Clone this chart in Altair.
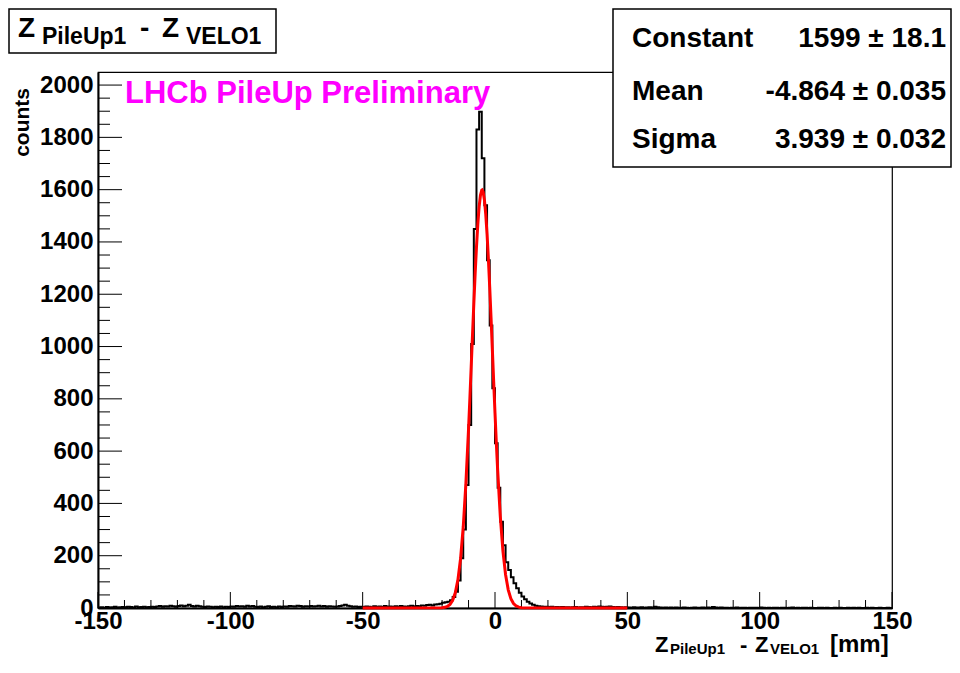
import altair as alt
import pandas as pd

FONT = "Liberation Sans"

# ---------------- data ----------------
# histogram counts, 1 mm bins, bin lower edges from -150 to 149
left_bg = [2, 3, 1, 4, 2, 3, 5, 2, 3, 4,
           3, 5, 4, 2, 6, 3, 4, 5, 3, 4,
           5, 4, 6, 8, 5, 7, 6, 9, 7, 5,
           8, 10, 7, 9, 12, 8, 6, 9, 7, 5,
           4, 6, 5, 3, 5, 4, 6, 3, 5, 4,
           6, 5, 8, 6, 7, 5, 9, 6, 8, 5,
           4, 6, 3, 5, 7, 4, 5, 3, 6, 4,
           6, 5, 8, 7, 6, 9, 8, 5, 7, 6,
           8, 6, 7, 9, 6, 8, 5, 7, 6, 5,
           6, 8, 10, 12, 9, 7, 5, 6, 4, 5,
           4, 6, 5, 3, 7, 5, 6, 4, 8, 5,
           6, 4, 7, 5, 8, 6, 5, 7, 9, 6,
           8, 7, 10, 9, 11, 12, 10, 13]            # -150 .. -23
core = [14, 16, 20, 22, 24, 30, 42, 62, 105, 190,
        300, 470, 700, 1010, 1450, 1830, 1898, 1720, 1540, 1330,
        1080, 840, 630, 460, 330, 240, 175, 145, 118, 95,
        76, 58, 44, 33, 24, 17, 12, 9, 7]           # -22 .. 16
right_bg = [6, 5, 5, 4, 5, 3, 4, 3, 4, 3,
            3, 2, 3, 4, 2, 3, 3, 5, 4, 3,
            5, 4, 6, 5, 4, 5, 6, 4, 3, 4,
            3, 2, 3, 2, 1, 3, 2, 2, 3, 1,
            2, 3, 2, 5, 3, 2, 1, 2, 1, 2,
            1, 2, 1, 1, 2, 1, 0, 1, 2, 1,
            1, 2, 1, 2, 1, 4, 2, 1, 2, 1,
            1, 0, 1, 1, 2, 0, 1, 1, 0, 1,
            1, 1, 0, 2, 1, 0, 1, 0, 1, 1,
            0, 1, 1, 0, 1, 2, 0, 1, 0, 1,
            1, 0, 1, 0, 0, 1, 1, 0, 1, 0,
            0, 1, 0, 1, 0, 0, 1, 0, 1, 0,
            1, 0, 0, 1, 0, 1, 0, 0, 1, 0,
            0, 1, 0]                                  # 17 .. 149
counts = left_bg + core + right_bg
bin_lo = list(range(-150, 150))

# Gaussian fit curve (Constant 1599, Mean -4.864, Sigma 3.939), drawn on [-50, 50]
fit_x = [-50, -20, -19, -18, -17, -16, -15, -14, -13, -12, -11, -10, -9.5, -9, -8.5,
         -8, -7.5, -7, -6.5, -6, -5.5, -5, -4.864, -4.5, -4, -3.5, -3, -2.5, -2, -1.5,
         -1, -0.5, 0, 0.5, 1, 2, 3, 4, 5, 6, 7, 8, 9, 10, 50]
fit_y = [0, 1.0, 2.5, 6.1, 13.9, 29.4, 58.3, 108.5, 189.5, 309.9, 475.4, 683.4, 800.0, 921.3, 1044.3,
         1164.7, 1278.3, 1380.4, 1466.9, 1533.9, 1578.3, 1598.0, 1599.0, 1592.2, 1561.0, 1506.0, 1429.7, 1335.5, 1227.5, 1110.4,
         988.2, 865.6, 745.9, 632.5, 528.0, 350.3, 217.9, 127.1, 69.5, 35.7, 17.1, 7.7, 3.3, 1.3, 0]

x_major = [-150, -100, -50, 0, 50, 100, 150]
x_minor = [-140, -130, -120, -110, -90, -80, -70, -60, -40, -30, -20, -10,
           10, 20, 30, 40, 60, 70, 80, 90, 110, 120, 130, 140]
y_major = [0, 200, 400, 600, 800, 1000, 1200, 1400, 1600, 1800, 2000]
y_minor = [50, 100, 150, 250, 300, 350, 450, 500, 550, 650, 700, 750, 850, 900, 950,
           1050, 1100, 1150, 1250, 1300, 1350, 1450, 1500, 1550, 1650, 1700, 1750,
           1850, 1900, 1950]

stats_names = ["Constant", "Mean", "Sigma"]
stats_values = ["1599 \u00b1 18.1", "-4.864 \u00b1 0.035", "3.939 \u00b1 0.032"]

# ---------------- chart ----------------
W, H = 794, 536
xs = alt.Scale(domain=[-150, 150], nice=False, zero=False)
ys = alt.Scale(domain=[0, 2050], nice=False, zero=True)

lab = dict(labelFont=FONT, labelFontSize=24, labelFontWeight="bold", labelColor="black",
           domainColor="black", domainWidth=2, ticks=False, tickSize=0, grid=False,
           labelOverlap=False, title=None,
           labelExpr="datum.value < 0 ? '-' + abs(datum.value) : '' + datum.value")
xaxis = alt.Axis(values=x_major, labelPadding=1, labelFlush=False, **lab)
yaxis = alt.Axis(values=y_major, labelPadding=5, **lab)

hist_df = pd.DataFrame({"x": bin_lo + [150], "y": counts + [counts[-1]]})
fit_df = pd.DataFrame({"x": fit_x, "y": fit_y})

hist = alt.Chart(hist_df).mark_line(interpolate="step-after", color="black", strokeWidth=2).encode(
    x=alt.X("x:Q", scale=xs, axis=xaxis),
    y=alt.Y("y:Q", scale=ys, axis=yaxis),
)

fit = alt.Chart(fit_df).mark_line(color="#ff0000", strokeWidth=3).encode(
    x=alt.X("x:Q", scale=xs, axis=xaxis),
    y=alt.Y("y:Q", scale=ys, axis=yaxis),
)


def xticks(vals, length):
    return alt.Chart(pd.DataFrame({"v": vals})).mark_rule(color="black", strokeWidth=1).encode(
        x=alt.X("v:Q", scale=xs, axis=xaxis), y=alt.value(H), y2=alt.value(H - length))


def yticks(vals, length):
    return alt.Chart(pd.DataFrame({"v": vals})).mark_rule(color="black", strokeWidth=1).encode(
        y=alt.Y("v:Q", scale=ys, axis=yaxis), x=alt.value(0), x2=alt.value(length))


one = pd.DataFrame({"k": [0]})


def txt(s, x, y, size, align="left", color="black", angle=0, baseline="alphabetic"):
    kw = dict(align=align, baseline=baseline, font=FONT, fontSize=size,
              fontWeight="bold", color=color)
    if angle:
        kw["angle"] = angle
    return alt.Chart(one).mark_text(**kw).encode(
        x=alt.value(x), y=alt.value(y), text=alt.value(s))


def box(x1, x2, y1, y2):
    return alt.Chart(one).mark_rect(fill="white", stroke="black", strokeWidth=1.5).encode(
        x=alt.value(x1), x2=alt.value(x2), y=alt.value(y1), y2=alt.value(y2))


layers = [
    hist,
    xticks(x_major, 16), xticks(x_minor, 8),
    yticks(y_major, 24), yticks(y_minor, 12),
    fit,
    txt("LHCb PileUp Preliminary", 27, 31, 31, color="#ff00ff"),
    # title box
    box(-89, 178, -63, -19),
    txt("Z", -80, -35, 28), txt("PileUp1", -56, -28, 23),
    txt("-", 42, -35, 28), txt("Z", 64, -35, 28), txt("VELO1", 88, -28, 23),
    # stats box
    box(515, 853, -63, 95),
]
rows_y = [-25, 28, 76]
for name, val, yy in zip(stats_names, stats_values, rows_y):
    layers.append(txt(name, 534, yy, 28))
    layers.append(txt(val, 848, yy, 28, align="right"))

# axis titles
layers += [
    txt("Z", 557, 580, 22), txt("PileUp1", 572, 582, 15),
    txt("-", 642, 580, 22), txt("Z", 657, 580, 22), txt("VELO1", 672, 582, 15),
    txt("[mm]", 732, 580, 24),
    txt("counts", -69, 16, 21, align="right", angle=270),
]

chart = alt.layer(*layers).properties(
    width=W, height=H,
    autosize=alt.AutoSizeParams(type="none"),
    padding={"left": 90, "top": 64, "right": 60, "bottom": 49},
    background="white",
).configure_view(stroke="black", strokeWidth=1.2)

chart.save("out.html", embed_options={"renderer": "svg", "actions": False})
